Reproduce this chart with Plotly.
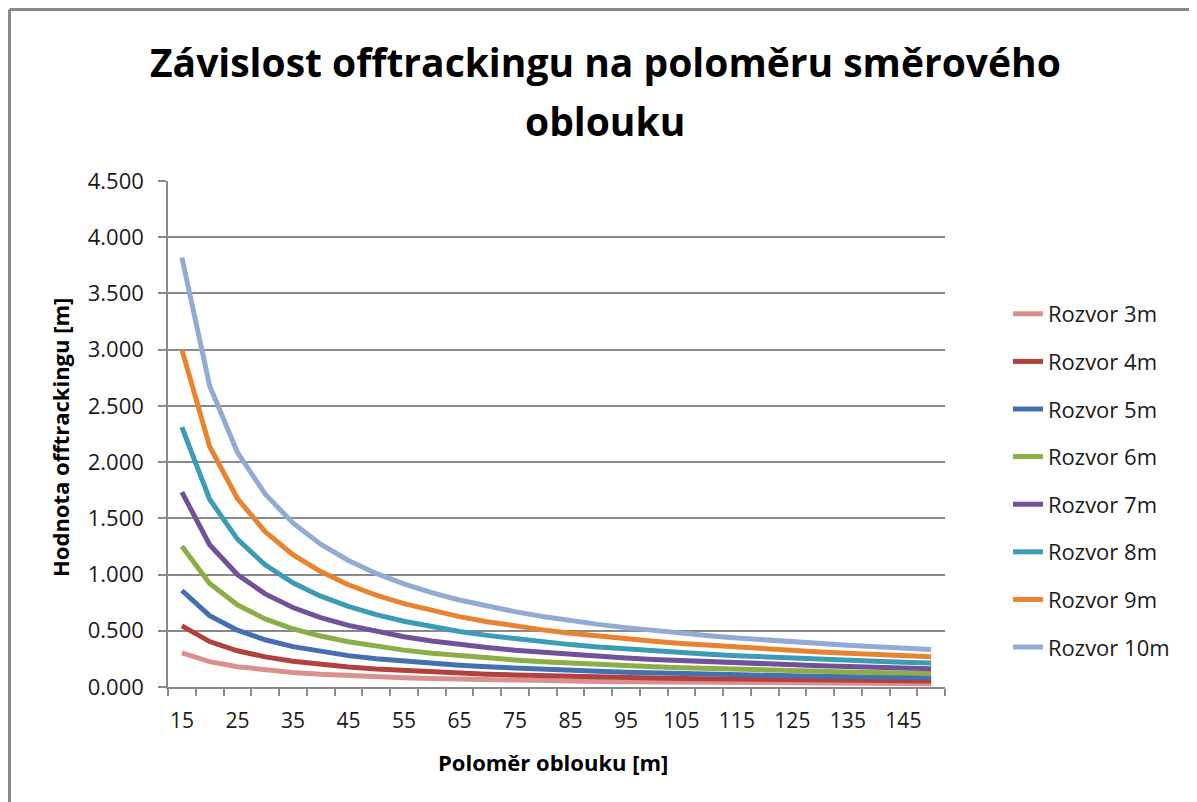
import plotly.graph_objects as go

# Poloměr oblouku [m]
polomer = [15, 20, 25, 30, 35, 40, 45, 50, 55, 60, 65, 70, 75, 80,
           85, 90, 95, 100, 105, 110, 115, 120, 125, 130, 135, 140, 145, 150]

# offtracking [m] for each wheelbase (rozvor)
rozvor_3m = [0.303, 0.226, 0.181, 0.150, 0.129, 0.113, 0.100, 0.090, 0.082, 0.075,
             0.069, 0.064, 0.060, 0.056, 0.053, 0.050, 0.047, 0.045, 0.043, 0.041,
             0.039, 0.038, 0.036, 0.035, 0.033, 0.032, 0.031, 0.030]
rozvor_4m = [0.543, 0.404, 0.322, 0.268, 0.229, 0.201, 0.178, 0.160, 0.146, 0.133,
             0.123, 0.114, 0.107, 0.100, 0.094, 0.089, 0.084, 0.080, 0.076, 0.073,
             0.070, 0.067, 0.064, 0.062, 0.059, 0.057, 0.055, 0.053]
rozvor_5m = [0.858, 0.635, 0.505, 0.420, 0.359, 0.314, 0.279, 0.251, 0.228, 0.209,
             0.193, 0.179, 0.167, 0.156, 0.147, 0.139, 0.132, 0.125, 0.119, 0.114,
             0.109, 0.104, 0.100, 0.096, 0.093, 0.089, 0.086, 0.083]
rozvor_6m = [1.252, 0.921, 0.731, 0.606, 0.518, 0.453, 0.402, 0.361, 0.328, 0.301,
             0.278, 0.258, 0.240, 0.225, 0.212, 0.200, 0.190, 0.180, 0.172, 0.164,
             0.157, 0.150, 0.144, 0.139, 0.133, 0.129, 0.124, 0.120]
rozvor_7m = [1.733, 1.265, 1.000, 0.828, 0.707, 0.617, 0.548, 0.492, 0.447, 0.410,
             0.378, 0.351, 0.327, 0.307, 0.289, 0.273, 0.258, 0.245, 0.234, 0.223,
             0.213, 0.204, 0.196, 0.189, 0.182, 0.175, 0.169, 0.163]
rozvor_8m = [2.311, 1.670, 1.315, 1.086, 0.926, 0.808, 0.717, 0.644, 0.585, 0.536,
             0.494, 0.459, 0.428, 0.401, 0.377, 0.356, 0.337, 0.321, 0.305, 0.291,
             0.279, 0.267, 0.256, 0.246, 0.237, 0.229, 0.221, 0.213]
rozvor_9m = [3.000, 2.139, 1.676, 1.382, 1.177, 1.026, 0.909, 0.817, 0.741, 0.679,
             0.626, 0.581, 0.542, 0.508, 0.478, 0.451, 0.427, 0.406, 0.386, 0.369,
             0.353, 0.338, 0.324, 0.312, 0.300, 0.290, 0.280, 0.270]
rozvor_10m = [3.820, 2.679, 2.087, 1.716, 1.459, 1.270, 1.125, 1.010, 0.917, 0.839,
              0.774, 0.718, 0.670, 0.627, 0.590, 0.557, 0.528, 0.501, 0.477, 0.455,
              0.436, 0.417, 0.401, 0.385, 0.371, 0.358, 0.345, 0.334]

series = [
    ("Rozvor 3m", rozvor_3m, "#D9908F"),
    ("Rozvor 4m", rozvor_4m, "#B2403D"),
    ("Rozvor 5m", rozvor_5m, "#4470B0"),
    ("Rozvor 6m", rozvor_6m, "#8CAE48"),
    ("Rozvor 7m", rozvor_7m, "#71529A"),
    ("Rozvor 8m", rozvor_8m, "#3C9CB6"),
    ("Rozvor 9m", rozvor_9m, "#E8842F"),
    ("Rozvor 10m", rozvor_10m, "#93AAD4"),
]

x_labels = [15, 25, 35, 45, 55, 65, 75, 85, 95, 105, 115, 125, 135, 145]
y_ticks = [0, 0.5, 1, 1.5, 2, 2.5, 3, 3.5, 4, 4.5]

title_lines = ["Závislost offtrackingu na poloměru směrového", "oblouku"]

FONT = "Open Sans, Noto Sans, sans-serif"
TXT = "#1a1a1a"
GRID = "#8a8a8a"

# page has an 8px body margin, so the figure is laid out 8px smaller
W, H = 1189, 794
L, T, PW, PH = 160, 173, 777, 506


def px_x(x):
    return (x - L) / PW


def px_y(y):
    return (T + PH - y) / PH


fig = go.Figure()
for name, vals, col in series:
    fig.add_trace(go.Scatter(x=polomer, y=vals, name=name, mode="lines",
                             legendgroup=name,
                             line=dict(color=col, width=5)))

fig.update_layout(
    width=W, height=H,
    paper_bgcolor="white", plot_bgcolor="white",
    margin=dict(l=L, r=W - L - PW, t=T, b=H - T - PH),
    font=dict(family=FONT, size=20, color=TXT),
    legend=dict(x=px_x(1000), xanchor="left", y=px_y(285), yanchor="top",
                font=dict(size=22, color=TXT), tracegroupgap=16,
                bgcolor="rgba(0,0,0,0)"),
    showlegend=True,
)

fig.update_xaxes(
    range=[12.5, 152.5], tickvals=x_labels, ticktext=[str(v) for v in x_labels],
    ticks="", showgrid=False, zeroline=False,
    showline=True, linecolor=GRID, linewidth=1.5,
    tickfont=dict(size=21, color=TXT),
    minor=dict(ticks="outside", tick0=12.5, dtick=5, ticklen=7,
               tickcolor=GRID, tickwidth=1.5, showgrid=False),
    ticklabelstandoff=14,
)
fig.update_yaxes(
    range=[0, 4.5], tickvals=y_ticks, tickformat=".3f",
    ticks="outside", ticklen=8, tickcolor=GRID, tickwidth=1.5,
    showgrid=True, gridcolor=GRID, gridwidth=1.5, zeroline=False,
    showline=True, linecolor=GRID, linewidth=1.5,
    tickfont=dict(size=22, color=TXT),
    ticklabelstandoff=10,
)

# title (two lines placed separately for Excel-like spacing)
for line_text, yc in zip(title_lines, [53, 112]):
    fig.add_annotation(text="<b>%s</b>" % line_text,
                       xref="paper", yref="paper", x=px_x(597), y=px_y(yc),
                       xanchor="center", yanchor="middle", showarrow=False,
                       font=dict(size=39, color="#000000"))

# axis titles
fig.add_annotation(text="<b>Hodnota offtrackingu [m]</b>", textangle=-90,
                   xref="paper", yref="paper", x=px_x(52), y=px_y(430),
                   xanchor="center", yanchor="middle",
                   showarrow=False, font=dict(size=22, color="#000000"))
fig.add_annotation(text="<b>Poloměr oblouku [m]</b>",
                   xref="paper", yref="paper", x=px_x(545), y=px_y(754),
                   xanchor="center", yanchor="middle",
                   showarrow=False, font=dict(size=22, color="#000000"))

# chart frame (only left and top edges are in view)
fx = px_x(1.5)
fy = px_y(1.5)
fig.add_shape(type="line", xref="paper", yref="paper", x0=fx, x1=fx, y0=-1, y1=fy,
              line=dict(color="#878787", width=3))
fig.add_shape(type="line", xref="paper", yref="paper", x0=fx, x1=2, y0=fy, y1=fy,
              line=dict(color="#878787", width=3))

fig.write_html("out.html")
